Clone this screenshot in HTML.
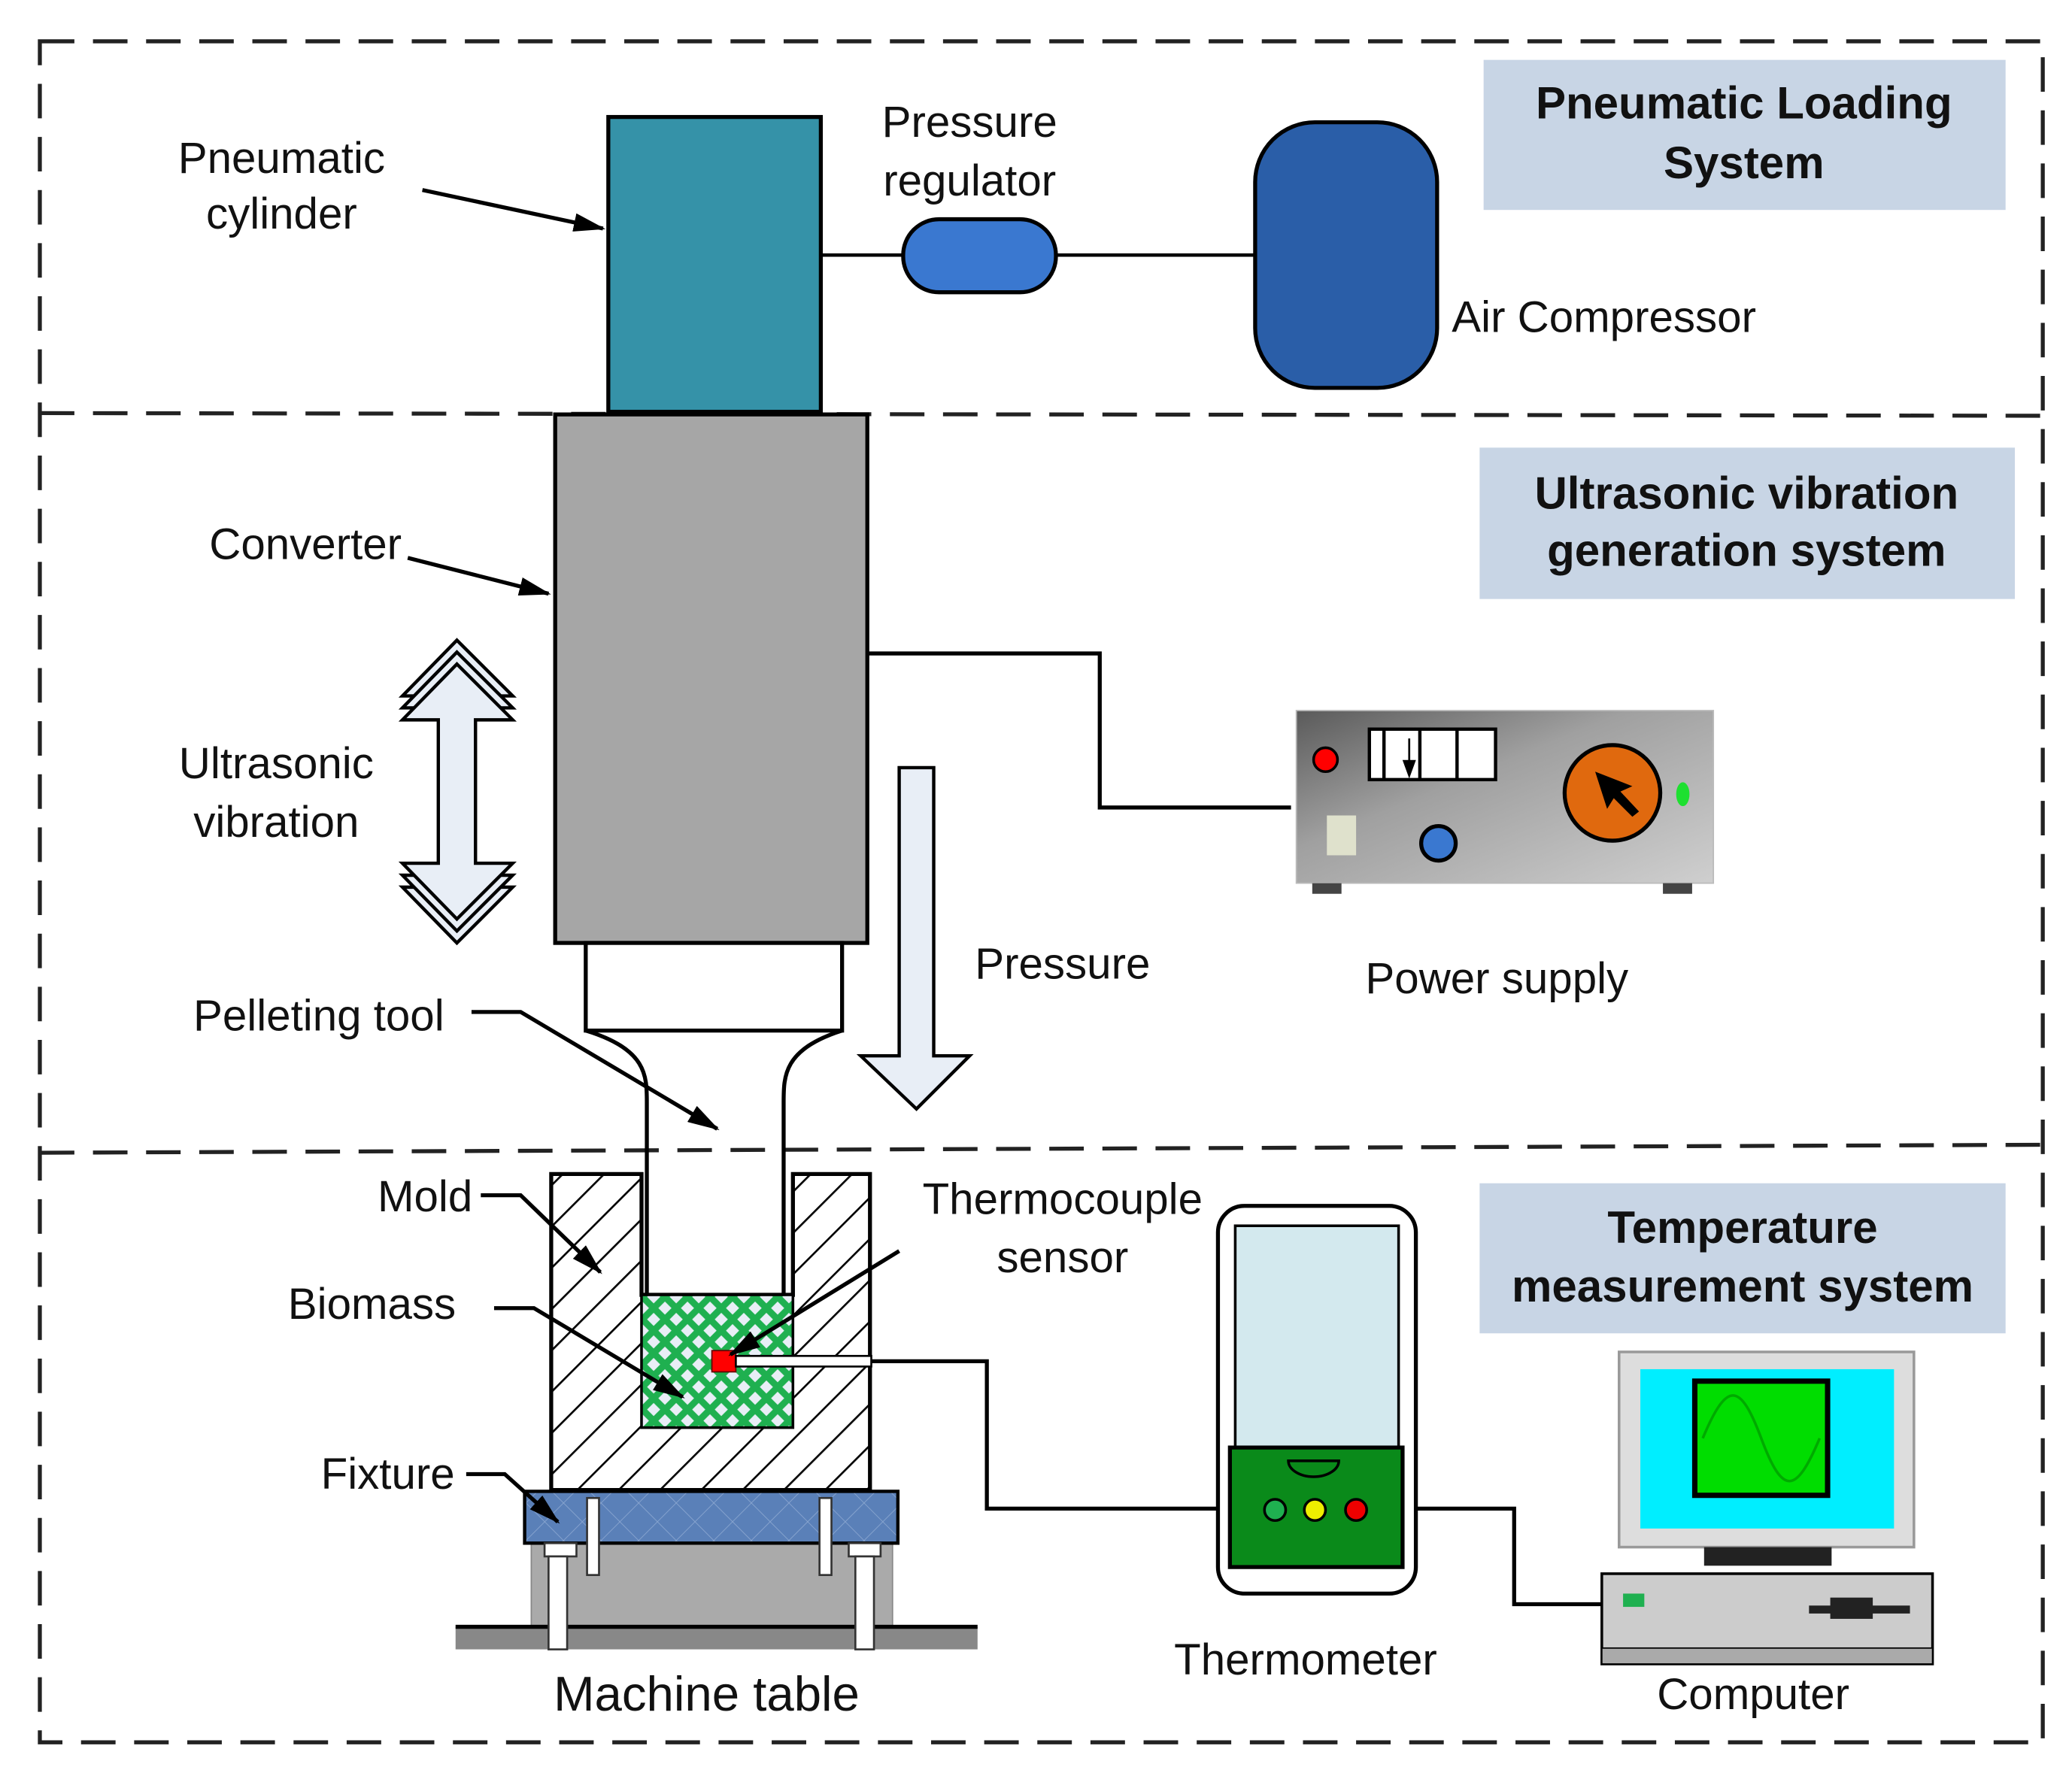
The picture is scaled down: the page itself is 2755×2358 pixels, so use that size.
<!DOCTYPE html>
<html><head><meta charset="utf-8"><style>html,body{margin:0;padding:0;background:#fff}svg{display:block}text{font-family:"Liberation Sans",Arial,sans-serif;fill:#111}</style></head><body>
<svg width="2755" height="2358" viewBox="0 0 1560 1335" xmlns="http://www.w3.org/2000/svg">
<defs>
<marker id="ah" markerWidth="24" markerHeight="14" refX="22" refY="7" orient="auto" markerUnits="userSpaceOnUse" viewBox="0 0 24 14"><path d="M0,0L24,7L0,14z" fill="#000"/></marker>
<pattern id="hatch" width="22" height="22" patternUnits="userSpaceOnUse" patternTransform="rotate(45)"><rect width="22" height="22" fill="#fff"/><line x1="0" y1="0" x2="0" y2="22" stroke="#000" stroke-width="3"/></pattern>
<pattern id="cross" width="12" height="12" patternUnits="userSpaceOnUse" patternTransform="rotate(45)"><rect width="12" height="12" fill="#1fb050"/><rect x="3" y="3" width="7" height="7" fill="#e8eef6"/></pattern>
<pattern id="bcross" width="20" height="20" patternUnits="userSpaceOnUse" patternTransform="rotate(45)"><rect width="20" height="20" fill="#5a80b8"/><line x1="0" y1="0" x2="20" y2="0" stroke="#8aa6d0" stroke-width="1"/><line x1="0" y1="0" x2="0" y2="20" stroke="#8aa6d0" stroke-width="1"/></pattern>
<linearGradient id="ps" x1="0" y1="0" x2="1" y2="1"><stop offset="0" stop-color="#5a5a5a"/><stop offset="0.4" stop-color="#a0a0a0"/><stop offset="1" stop-color="#cfcfcf"/></linearGradient>
</defs>
<g fill="none" stroke="#222" stroke-width="3" stroke-dasharray="26,14">
<rect x="30" y="31" width="1508" height="1281"/>
<line x1="30" y1="311" x2="1538" y2="313"/>
<line x1="30" y1="868" x2="1538" y2="862"/>
</g>
<rect x="1117" y="45" width="393" height="113" fill="#c8d5e5"/>
<rect x="1114" y="337" width="403" height="114" fill="#c8d5e5"/>
<rect x="1114" y="891" width="396" height="113" fill="#c8d5e5"/>
<g font-weight="bold" font-size="34" text-anchor="middle">
<text x="1313" y="89">Pneumatic Loading</text><text x="1313" y="134">System</text>
<text x="1315" y="383">Ultrasonic vibration</text><text x="1315" y="426">generation  system</text>
<text x="1312" y="936">Temperature</text><text x="1312" y="980">measurement system</text>
</g>
<line x1="618" y1="192" x2="945" y2="192" stroke="#000" stroke-width="2.5"/>
<rect x="458" y="88" width="160" height="222" fill="#3592a8" stroke="#000" stroke-width="3"/>
<rect x="680" y="165" width="115" height="55" rx="27" fill="#3a78d0" stroke="#000" stroke-width="3"/>
<rect x="945" y="92" width="137" height="200" rx="45" fill="#2a5ea8" stroke="#000" stroke-width="3"/>
<g font-size="33">
<text x="212" y="130" text-anchor="middle">Pneumatic</text><text x="212" y="172" text-anchor="middle">cylinder</text>
<text x="730" y="103" text-anchor="middle">Pressure</text><text x="730" y="147" text-anchor="middle">regulator</text>
<text x="1093" y="250">Air Compressor</text>
<text x="230" y="421" text-anchor="middle">Converter</text>
<text x="208" y="586" text-anchor="middle">Ultrasonic</text><text x="208" y="630" text-anchor="middle">vibration</text>
<text x="800" y="737" text-anchor="middle">Pressure</text>
<text x="1127" y="748" text-anchor="middle">Power supply</text>
<text x="240" y="776" text-anchor="middle">Pelleting tool</text>
<text x="320" y="912" text-anchor="middle">Mold</text>
<text x="800" y="914" text-anchor="middle">Thermocouple</text><text x="800" y="958" text-anchor="middle">sensor</text>
<text x="280" y="993" text-anchor="middle">Biomass</text>
<text x="292" y="1121" text-anchor="middle">Fixture</text>
<text x="532" y="1288" text-anchor="middle" font-size="37">Machine table</text>
<text x="983" y="1261" text-anchor="middle">Thermometer</text>
<text x="1320" y="1287" text-anchor="middle">Computer</text>
</g>
<polyline points="653,492 828,492 828,608 972,608" fill="none" stroke="#000" stroke-width="3"/>
<rect x="418" y="312" width="235" height="398" fill="#a6a6a6" stroke="#000" stroke-width="3"/>
<rect x="441" y="710" width="193" height="66" fill="#fff" stroke="#000" stroke-width="3"/>
<path d="M441,776 C487,790 487,810 487,830 L487,975 M634,776 C590,790 590,810 590,830 L590,975" fill="none" stroke="#000" stroke-width="3"/>
<path d="M677,578 L703,578 L703,795 L730,795 L690,835 L648,795 L677,795 Z" fill="#e8eef6" stroke="#000" stroke-width="2.5"/>
<g fill="#e8eef6" stroke="#000" stroke-width="2.5">
<path d="M344,482 L386,524 L303,524 Z"/><path d="M344,491 L386,533 L303,533 Z"/>
<path d="M344,710 L386,668 L303,668 Z"/><path d="M344,701 L386,659 L303,659 Z"/>
<path d="M344,500 L386,542 L358,542 L358,650 L386,650 L344,692 L303,650 L330,650 L330,542 L303,542 Z"/>
</g>
<rect x="976" y="535" width="314" height="130" fill="url(#ps)" stroke="#bbb"/>
<rect x="988" y="665" width="22" height="8" fill="#444"/><rect x="1252" y="665" width="22" height="8" fill="#444"/>
<circle cx="998" cy="572" r="9" fill="#f00" stroke="#000" stroke-width="2"/>
<rect x="1031" y="549" width="95" height="38" fill="#fff" stroke="#000" stroke-width="2.5"/>
<line x1="1042" y1="549" x2="1042" y2="587" stroke="#000" stroke-width="2.5"/><line x1="1069" y1="549" x2="1069" y2="587" stroke="#000" stroke-width="2.5"/><line x1="1097" y1="549" x2="1097" y2="587" stroke="#000" stroke-width="2.5"/>
<path d="M1061,556 L1061,576 M1057,573 L1065,573 L1061,584Z" stroke="#000" fill="#000" stroke-width="1.5"/>
<rect x="999" y="614" width="22" height="30" fill="#dfe1cc"/>
<circle cx="1083" cy="635" r="13" fill="#3a78d0" stroke="#000" stroke-width="3"/>
<circle cx="1214" cy="597" r="36" fill="#e0690e" stroke="#000" stroke-width="3"/>
<path d="M1201,581 L1229,592 L1220,596 L1234,611 L1229,615 L1215,601 L1210,609 Z" fill="#000"/>
<ellipse cx="1267" cy="598" rx="5" ry="9" fill="#1ee030"/>
<path d="M415,884 L483,884 L483,975 L597,975 L597,884 L655,884 L655,1122 L415,1122 Z" fill="url(#hatch)" stroke="#000" stroke-width="3"/>
<rect x="483" y="975" width="114" height="100" fill="url(#cross)" stroke="#000" stroke-width="2"/>
<rect x="536" y="1017" width="18" height="16" fill="#f00" stroke="#600" stroke-width="1"/>
<rect x="554" y="1021" width="102" height="8" fill="#fff" stroke="#000" stroke-width="1.5"/>
<polyline points="656,1025 743,1025 743,1136 917,1136" fill="none" stroke="#000" stroke-width="3"/>
<polyline points="1066,1136 1140,1136 1140,1208 1206,1208" fill="none" stroke="#000" stroke-width="3"/>
<rect x="400" y="1162" width="272" height="63" fill="#aaa" stroke="#888"/>
<rect x="343" y="1225" width="393" height="17" fill="#888"/>
<line x1="343" y1="1225" x2="736" y2="1225" stroke="#000" stroke-width="3"/>
<rect x="395" y="1123" width="281" height="39" fill="url(#bcross)" stroke="#000" stroke-width="2.5"/>
<g fill="#fff" stroke="#333" stroke-width="1.5">
<rect x="442" y="1128" width="9" height="58"/><rect x="617" y="1128" width="9" height="58"/>
<rect x="410" y="1162" width="24" height="10"/><rect x="639" y="1162" width="24" height="10"/>
<rect x="413" y="1172" width="14" height="70"/><rect x="644" y="1172" width="14" height="70"/>
</g>
<g stroke="#000" stroke-width="3" fill="none" marker-end="url(#ah)">
<line x1="318" y1="143" x2="454" y2="172"/>
<polyline points="307,420 413,447"/>
<polyline points="355,762 392,762 540,850"/>
<polyline points="362,900 392,900 452,958"/>
<polyline points="372,985 402,985 514,1052"/>
<polyline points="351,1110 380,1110 420,1146"/>
<line x1="677" y1="942" x2="550" y2="1020"/>
</g>
<rect x="917" y="908" width="149" height="292" rx="20" fill="#fff" stroke="#000" stroke-width="3"/>
<rect x="930" y="923" width="123" height="167" fill="#d3e9ee" stroke="#000" stroke-width="2"/>
<rect x="926" y="1090" width="130" height="90" fill="#0a8a1a" stroke="#000" stroke-width="3"/>
<path d="M970,1100 L1008,1100 A19,12 0 0 1 970,1100Z" fill="#0a8a1a" stroke="#000" stroke-width="2"/>
<circle cx="960" cy="1137" r="8" fill="#1fb050" stroke="#000" stroke-width="2"/>
<circle cx="990" cy="1137" r="8" fill="#ee0" stroke="#000" stroke-width="2"/>
<circle cx="1021" cy="1137" r="8" fill="#e00" stroke="#000" stroke-width="2"/>
<rect x="1219" y="1018" width="222" height="147" fill="#ddd" stroke="#999" stroke-width="2"/>
<rect x="1235" y="1031" width="191" height="120" fill="#00eeff"/>
<rect x="1276" y="1040" width="100" height="86" fill="#00dd00" stroke="#000" stroke-width="4"/>
<path d="M1282,1083 C1300,1040 1310,1040 1326,1083 S1352,1126 1370,1083" fill="none" stroke="#0a0" stroke-width="2"/>
<rect x="1283" y="1165" width="96" height="14" fill="#222"/>
<rect x="1206" y="1185" width="249" height="68" fill="#ccc" stroke="#000" stroke-width="2"/>
<rect x="1206" y="1241" width="249" height="12" fill="#aaa" stroke="#000" stroke-width="1"/>
<rect x="1222" y="1200" width="16" height="10" fill="#1fb050"/>
<rect x="1362" y="1209" width="76" height="6" fill="#222"/><rect x="1378" y="1203" width="32" height="16" fill="#222"/>
</svg>
</body></html>
